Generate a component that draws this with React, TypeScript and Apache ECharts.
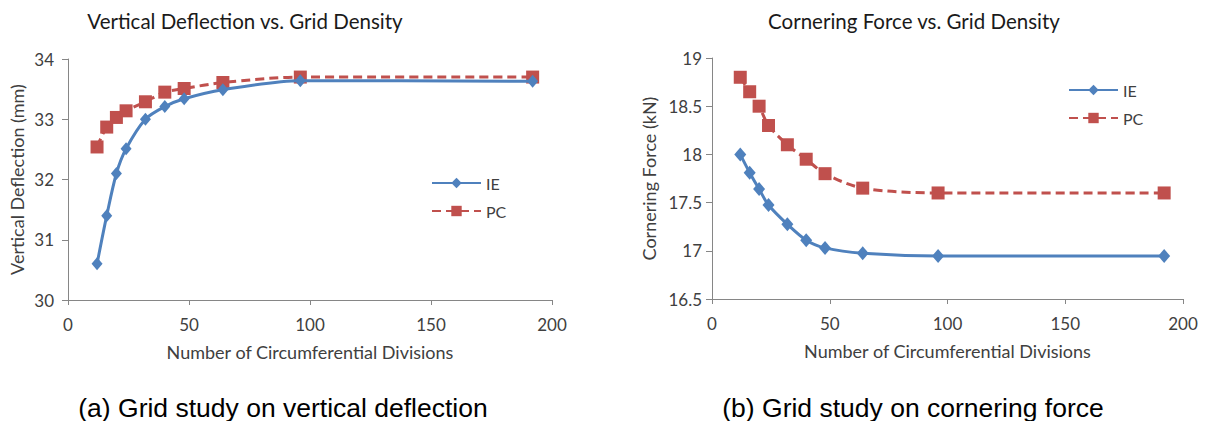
import React, { useEffect, useRef } from "react";
import * as echarts from "echarts";

const divisions = [12, 16, 20, 24, 32, 40, 48, 64, 96, 192];
const deflIE = [30.6, 31.4, 32.1, 32.51, 33.0, 33.21, 33.34, 33.49, 33.64, 33.63];
const deflPC = [32.54, 32.87, 33.03, 33.14, 33.29, 33.45, 33.51, 33.61, 33.7, 33.7];
const forceIE = [18.0, 17.81, 17.64, 17.475, 17.275, 17.11, 17.03, 16.975, 16.947, 16.947];
const forcePC = [18.8, 18.65, 18.5, 18.3, 18.1, 17.95, 17.8, 17.65, 17.6, 17.6];
const seriesNames = ["IE", "PC"];

const BLUE = "#4F81BD";
const RED = "#C0504D";
const AXIS = "#868686";
const TXT = "#404040";
const FONT = "Lato, 'Noto Sans', sans-serif";
const CAP_FONT = "'Liberation Sans', Arial, sans-serif";

const pairs = (xs: number[], ys: number[]) => xs.map((x, i) => [x, ys[i]]);

export default function App() {
  const ref = useRef<HTMLDivElement>(null);
  useEffect(() => {
    if (!ref.current) return;
    const chart = echarts.init(ref.current, null, { renderer: "svg" });
    const xAxisBase = (gridIndex: number) => ({
      type: "value",
      gridIndex,
      min: 0,
      max: 200,
      interval: 50,
      name: "Number of Circumferential Divisions",
      nameLocation: "middle",
      nameGap: 43,
      nameTextStyle: { fontFamily: FONT, fontSize: 18, color: TXT },
      axisLine: { show: true, lineStyle: { color: AXIS, width: 1 } },
      axisTick: { show: true, length: 5, lineStyle: { color: AXIS } },
      axisLabel: { fontFamily: FONT, fontSize: 17, color: TXT, margin: 16 },
      splitLine: { show: false },
    });
    const ieSeries = (xi: number, data: number[], sz: number) => ({
      name: seriesNames[0],
      type: "line",
      xAxisIndex: xi,
      yAxisIndex: xi,
      data: pairs(divisions, data),
      smooth: 0.3,
      symbol: "diamond",
      symbolSize: [sz, sz + 2],
      itemStyle: { color: BLUE },
      lineStyle: { color: BLUE, width: 3 },
      z: 3,
    });
    const pcSeries = (xi: number, data: number[]) => ({
      name: seriesNames[1],
      type: "line",
      xAxisIndex: xi,
      yAxisIndex: xi,
      data: pairs(divisions, data),
      smooth: 0.3,
      symbol: "rect",
      symbolSize: 13,
      itemStyle: { color: RED },
      lineStyle: { color: RED, width: 3, type: [9, 5] },
      z: 2,
    });
    const legendBase = (left: number, top: number) => ({
      orient: "vertical",
      left,
      top,
      itemWidth: 49,
      itemHeight: 13,
      itemGap: 12,
      padding: 0,
      data: seriesNames,
      textStyle: { fontFamily: FONT, fontSize: 16, color: TXT },
    });
    const titleStyle = { fontFamily: FONT, fontSize: 20.5, fontWeight: "normal", color: "#1a1a1a" };
    const capStyle = { fontFamily: CAP_FONT, fontSize: 26.5, fontWeight: "normal", color: "#000" };
    chart.setOption({
      animation: false,
      backgroundColor: "#ffffff",
      title: [
        { text: "Vertical Deflection vs. Grid Density", left: 245, top: 10, textAlign: "center", padding: 0, textStyle: titleStyle },
        { text: "Cornering Force vs. Grid Density", left: 914, top: 10, textAlign: "center", padding: 0, textStyle: titleStyle },
        { text: "(a) Grid study on vertical deflection", left: 283, top: 394, textAlign: "center", padding: 0, textStyle: capStyle },
        { text: "(b) Grid study on cornering force", left: 913, top: 394, textAlign: "center", padding: 0, textStyle: capStyle },
      ],
      legend: [legendBase(431, 175), legendBase(1068, 82)],
      grid: [
        { left: 68, top: 59, width: 484, height: 241 },
        { left: 712, top: 58, width: 471, height: 241 },
      ],
      xAxis: [xAxisBase(0), xAxisBase(1)],
      yAxis: [
        {
          type: "value",
          gridIndex: 0,
          min: 30,
          max: 34,
          interval: 1,
          name: "Vertical Deflection (mm)",
          nameLocation: "middle",
          nameGap: 42,
          nameTextStyle: { fontFamily: FONT, fontSize: 18, color: TXT },
          axisLine: { show: true, lineStyle: { color: AXIS, width: 1 } },
          axisTick: { show: true, length: 6, lineStyle: { color: AXIS } },
          axisLabel: { fontFamily: FONT, fontSize: 17, color: TXT, margin: 14 },
          splitLine: { show: false },
        },
        {
          type: "value",
          gridIndex: 1,
          min: 16.5,
          max: 19,
          interval: 0.5,
          name: "Cornering Force (kN)",
          nameLocation: "middle",
          nameGap: 54,
          nameTextStyle: { fontFamily: FONT, fontSize: 18, color: TXT },
          axisLine: { show: true, lineStyle: { color: AXIS, width: 1 } },
          axisTick: { show: true, length: 6, lineStyle: { color: AXIS } },
          axisLabel: { fontFamily: FONT, fontSize: 17, color: TXT, margin: 10 },
          splitLine: { show: false },
        },
      ],
      series: [ieSeries(0, deflIE, 11), pcSeries(0, deflPC), ieSeries(1, forceIE, 12), pcSeries(1, forcePC)],
    });
    return () => chart.dispose();
  }, []);
  return (
    <div
      ref={ref}
      style={{ position: "absolute", left: 0, top: 0, width: 1208, height: 421, background: "#fff" }}
    />
  );
}
